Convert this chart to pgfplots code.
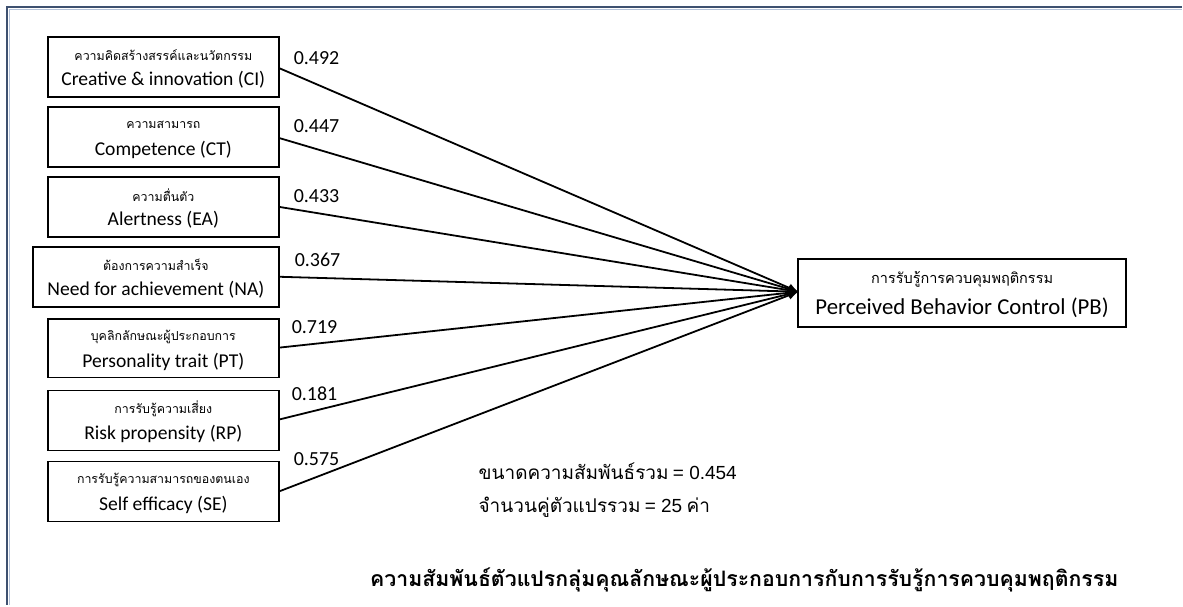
\documentclass[border=0pt]{standalone}
\usepackage{fontspec}
\setmainfont{Carlito}
\newfontfamily\thaifont[Script=Thai]{Loma}
\newfontfamily\helv{Liberation Sans}
\usepackage{pgfplots}
\pgfplotsset{compat=1.18}
\usetikzlibrary{arrows.meta}
\definecolor{framedark}{HTML}{3E5170}
\definecolor{framelight}{HTML}{B4C2D8}

% box: x1 y1 x2 y2 (pixels of the original, y downwards)
\newcommand{\pathbox}[6]{%
  \draw[line width=0.8pt] (axis cs:#1,#2) rectangle (axis cs:#3,#4);
  \node[font=\thaifont\fontsize{6.2}{8}\selectfont] at (axis cs:{(#1+#3)/2},{#2+18}) {#5};
  \node[font=\fontsize{9.8}{11}\selectfont] at (axis cs:{(#1+#3)/2},{#2+43}) {#6};
}

\begin{document}
\begin{tikzpicture}
\begin{axis}[
    width=591.5pt, height=303pt,
    scale only axis,
    xmin=0, xmax=1183,
    ymin=0, ymax=606,
    y dir=reverse,
    hide axis,
    clip=false
]
% keep the whole canvas in the bounding box
\path (axis cs:0,0) rectangle (axis cs:1183,606);

% frame (top and left edge only)
\addplot[framedark, line width=1.1pt] coordinates {(1183,7)(7,7)(7,606)};
\addplot[framelight, line width=0.5pt] coordinates {(1183,9.3)(9.3,9.3)(9.3,606)};

% paths to PB
\addplot[black, line width=0.9pt, -{Latex[length=5pt,width=4.5pt]}] coordinates {(279,68)(799,292)};
\addplot[black, line width=0.9pt, -{Latex[length=5pt,width=4.5pt]}] coordinates {(279,138)(799,292)};
\addplot[black, line width=0.9pt, -{Latex[length=5pt,width=4.5pt]}] coordinates {(279,207)(799,292)};
\addplot[black, line width=0.9pt, -{Latex[length=5pt,width=4.5pt]}] coordinates {(279,277)(799,292)};
\addplot[black, line width=0.9pt, -{Latex[length=5pt,width=4.5pt]}] coordinates {(279,348)(799,292)};
\addplot[black, line width=0.9pt, -{Latex[length=5pt,width=4.5pt]}] coordinates {(279,420)(799,292)};
\addplot[black, line width=0.9pt, -{Latex[length=5pt,width=4.5pt]}] coordinates {(279,492)(799,292)};

% coefficients
\begin{scope}[every node/.style={anchor=west, font=\fontsize{10}{12}\selectfont}]
\node at (axis cs:287,58) {0.492};
\node at (axis cs:287,126) {0.447};
\node at (axis cs:287,196) {0.433};
\node at (axis cs:288,260) {0.367};
\node at (axis cs:285,327) {0.719};
\node at (axis cs:285,394) {0.181};
\node at (axis cs:287,460) {0.575};
\end{scope}

\pathbox{48}{37}{279}{97}{ความคิดสร้างสรรค์และนวัตกรรม}{Creative \& innovation (CI)}
\pathbox{48}{107}{279}{167}{ความสามารถ}{Competence (CT)}
\pathbox{48}{177}{279}{237}{ความตื่นตัว}{Alertness (EA)}
\pathbox{33}{247}{279}{307}{ต้องการความสำเร็จ}{Need for achievement (NA)}
\pathbox{48}{319}{279}{378}{บุคลิกลักษณะผู้ประกอบการ}{Personality trait (PT)}
\pathbox{48}{391}{279}{451}{การรับรู้ความเสี่ยง}{Risk propensity (RP)}
\pathbox{48}{462}{279}{522}{การรับรู้ความสามารถของตนเอง}{Self efficacy (SE)}

% dependent variable
\draw[line width=0.8pt] (axis cs:799,259) rectangle (axis cs:1127,327);
\node[font=\thaifont\fontsize{7.25}{9}\selectfont] at (axis cs:963,280) {การรับรู้การควบคุมพฤติกรรม};
\node[font=\fontsize{11.4}{13}\selectfont] at (axis cs:963,308) {Perceived Behavior Control (PB)};

% summary
\node[anchor=west, font=\fontsize{9.5}{12}\selectfont] at (axis cs:472,472) {{\thaifont ขนาดความสัมพันธ์รวม} {\helv = 0.454}};
\node[anchor=west, font=\fontsize{9.5}{12}\selectfont] at (axis cs:472,508) {{\thaifont จำนวนคู่ตัวแปรรวม} {\helv = 25} {\thaifont ค่า}};

\node[font=\thaifont\bfseries\fontsize{10.65}{12}\selectfont] at (axis cs:745,580) {ความสัมพันธ์ตัวแปรกลุ่มคุณลักษณะผู้ประกอบการกับการรับรู้การควบคุมพฤติกรรม};

\end{axis}
\end{tikzpicture}
\end{document}
